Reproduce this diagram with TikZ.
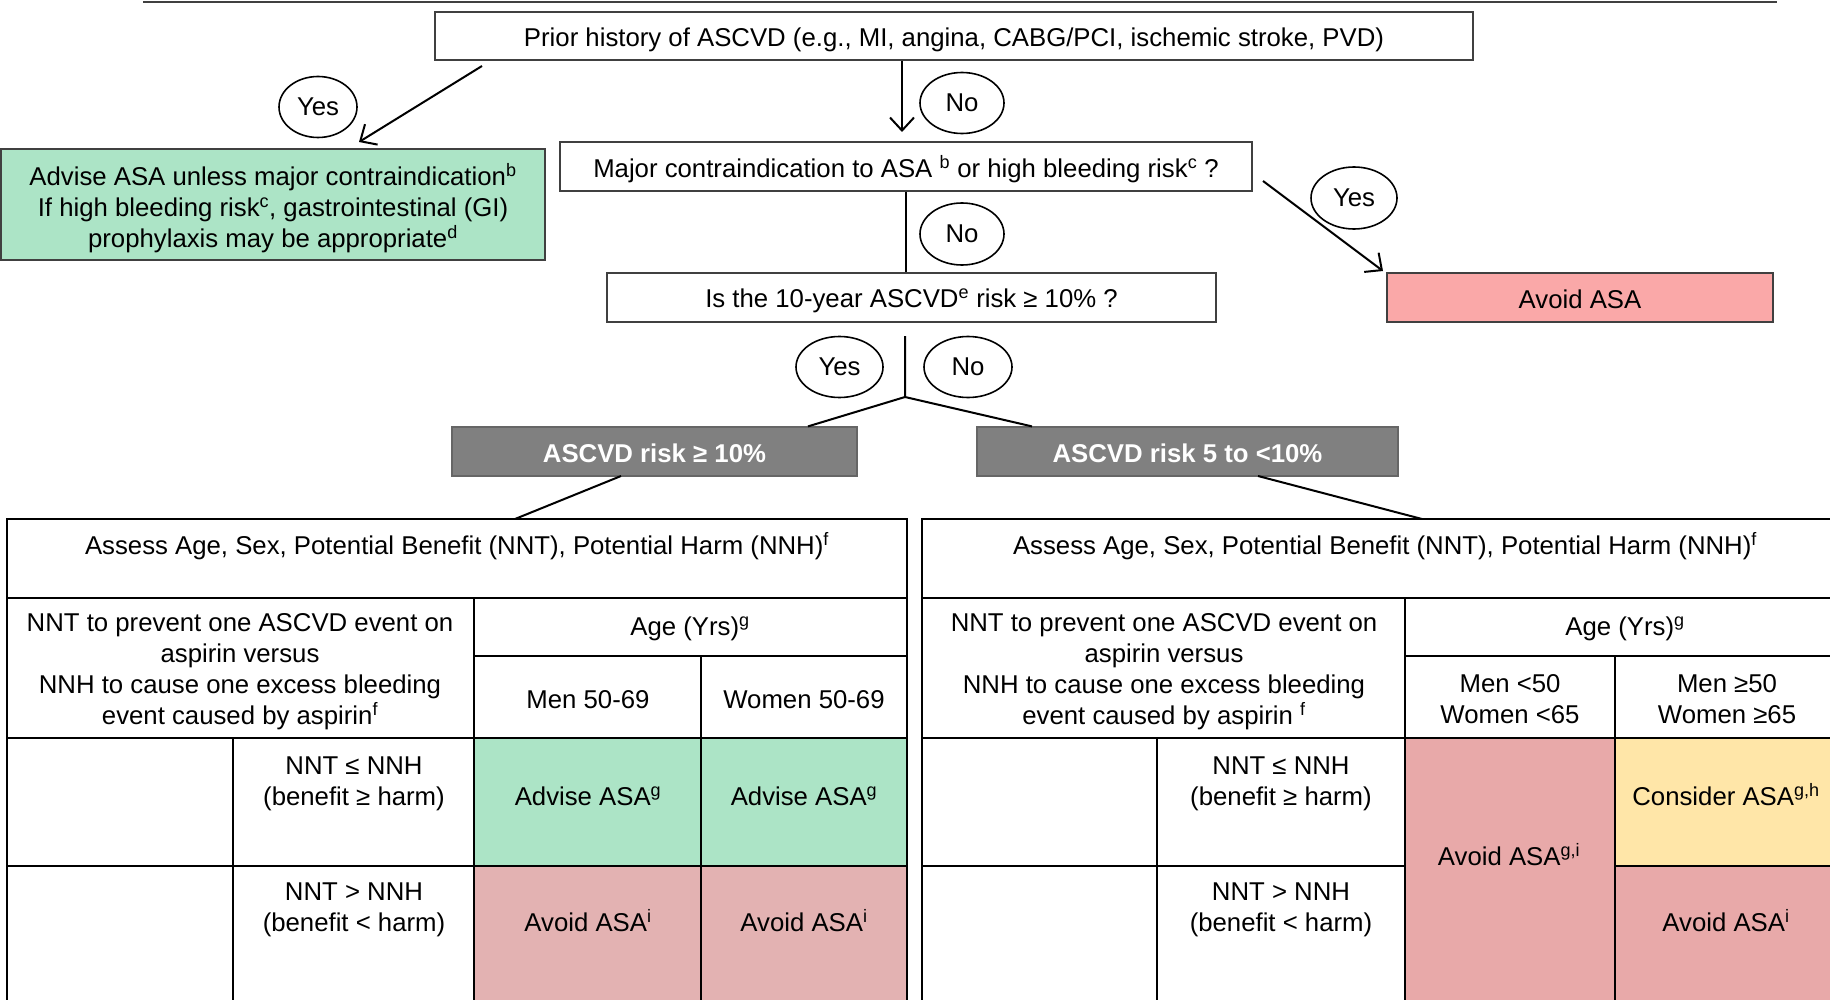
\documentclass[tikz,border=0pt]{standalone}
\usepackage{fontspec}
\setmainfont{Liberation Sans}
\usetikzlibrary{arrows.meta,shapes.geometric}
\definecolor{mint}{HTML}{ACE4C6}
\definecolor{rosetop}{HTML}{FAA8A8}
\definecolor{rosel}{HTML}{E3B2B2}
\definecolor{roser}{HTML}{E8A9A9}
\definecolor{yel}{HTML}{FFE6A8}
\definecolor{greybox}{HTML}{808080}
\begin{document}
\begin{tikzpicture}[x=1pt,y=-1pt,
  font=\fontsize{25.75}{31}\selectfont,
  box/.style={draw=black!75, line width=1.2pt, inner sep=0pt, align=center},
  bubble/.style={draw=black, ellipse, line width=1.6pt, inner sep=0pt},
  conn/.style={line width=2pt, black},
  arr/.style={conn, -{Straight Barb[length=13pt,width=24pt,line width=2pt]}},
  tline/.style={line width=2pt, black},
  cell/.style={inner sep=0pt, align=center},
  gbox/.style={box, fill=greybox, draw=black!60, text=white, font=\fontsize{25.75}{31}\selectfont\bfseries}]
\useasboundingbox (0,0) rectangle (1830,1000);
\begin{scope}
\clip (0,0) rectangle (1830,1000);

% top rule
\draw[line width=2.5pt, black!75] (143,2) -- (1777,2);

% flow boxes
\node[box, minimum width=1038pt, minimum height=48pt] (prior) at (954,36) {};
\node[cell] (priorT) at (954,39.5)
  {Prior history of ASCVD (e.g., MI, angina, CABG/PCI, ischemic stroke, PVD)};
\node[box, fill=mint, minimum width=544pt, minimum height=111pt] (advise) at (273,204.5) {};
\node[cell] (adviseT) at (273,208)
  {Advise ASA unless major contraindication\textsuperscript{b}\\
   If high bleeding risk\textsuperscript{c}, gastrointestinal (GI)\\
   prophylaxis may be appropriate\textsuperscript{d}};
\node[box, minimum width=692pt, minimum height=49pt] (contra) at (906,166.5) {};
\node[cell] (contraT) at (906,169)
  {Major contraindication to ASA \textsuperscript{b} or high bleeding risk\textsuperscript{c} ?};
\node[box, minimum width=609pt, minimum height=49pt] (tenyr) at (911.5,297.5) {};
\node[cell] (tenyrT) at (911.5,301)
  {Is the 10-year ASCVD\textsuperscript{e} risk ≥ 10\% ?};
\node[box, fill=rosetop, minimum width=386pt, minimum height=49pt] (avoid) at (1580,297.5) {};
\node[cell] (avoidT) at (1580,299) {Avoid ASA};
\node[gbox, minimum width=405pt, minimum height=49pt] (greyL) at (654.5,451.5) {};
\node[cell, text=white, font=\fontsize{25.75}{31}\selectfont\bfseries] (greyLT) at (654.5,453.5)
  {ASCVD risk ≥ 10\%};
\node[gbox, minimum width=421pt, minimum height=49pt] (greyR) at (1187.5,451.5) {};
\node[cell, text=white, font=\fontsize{25.75}{31}\selectfont\bfseries] (greyRT) at (1187.5,453.5)
  {ASCVD risk 5 to <10\%};

% bubbles
\node[bubble, minimum width=78pt, minimum height=61pt] (yes1) at (318,107) {Yes};
\node[bubble, minimum width=84pt, minimum height=61pt] (no1) at (962,103) {No};
\node[bubble, minimum width=84pt, minimum height=62pt] (no2) at (962,234) {No};
\node[bubble, minimum width=86pt, minimum height=62pt] (yes2) at (1354,198) {Yes};
\node[bubble, minimum width=87pt, minimum height=61pt] (yes3) at (839.5,367) {Yes};
\node[bubble, minimum width=88pt, minimum height=61pt] (no3) at (968,367) {No};

% connector end points
\coordinate (aYs) at (482,66);
\coordinate (aYe) at (359,142);
\coordinate (aNe) at (902,132);
\coordinate (bRs) at (1263,181);
\coordinate (bRe) at (1383,271);
\coordinate (jTop) at (905,336);
\coordinate (jMid) at (905,397);
\coordinate (gLb) at (621,476);
\coordinate (gRb) at (1258,476);
\coordinate (tabL) at (515,519);
\coordinate (tabR) at (1422,519);

\draw[arr] (aYs) -- (aYe);
\draw[arr] (prior.south -| aNe) -- (aNe);
\draw[conn] (contra.south -| 906,0) -- (tenyr.north -| 906,0);
\draw[arr] (bRs) -- (bRe);
\draw[conn] (jTop) -- (jMid) -- (greyL.north -| 808,0);
\draw[conn] (jMid) -- (greyR.north -| 1032,0);
\draw[conn] (gLb) -- (tabL);
\draw[conn] (gRb) -- (tabR);

% ---------- left table ----------
\fill[mint] (474,738) rectangle (907,866);
\fill[rosel] (474,866) rectangle (907,1010);
\draw[tline] (7,1010) -- (7,519) -- (907,519) -- (907,1010);
\draw[tline] (7,598) -- (907,598);
\draw[tline] (474,656) -- (907,656);
\draw[tline] (7,738) -- (907,738);
\draw[tline] (7,866) -- (907,866);
\draw[tline] (474,598) -- (474,1010);
\draw[tline] (701,656) -- (701,1010);
\draw[tline] (233,738) -- (233,1010);

\node[cell] (lAssess) at (457,546.5)
  {Assess Age, Sex, Potential Benefit (NNT), Potential Harm (NNH)\textsuperscript{f}};
\node[cell] (lNNT) at (240,671.5)
  {NNT to prevent one ASCVD event on\\ aspirin versus\\ NNH to cause one excess bleeding\\ event caused by aspirin\textsuperscript{f}};
\node[cell] (lAge) at (690,629) {Age (Yrs)\textsuperscript{g}};
\node[cell] (lMen) at (588,699.5) {Men 50-69};
\node[cell] (lWomen) at (804,699.5) {Women 50-69};
\node[cell] (lLe) at (354,783.5) {NNT ≤ NNH\\ (benefit ≥ harm)};
\node[cell] (lGt) at (354,909.5) {NNT > NNH\\ (benefit < harm)};
\node[cell] (lAdv1) at (588,796) {Advise ASA\textsuperscript{g}};
\node[cell] (lAdv2) at (804,796) {Advise ASA\textsuperscript{g}};
\node[cell] (lAv1) at (588,921) {Avoid ASA\textsuperscript{i}};
\node[cell] (lAv2) at (804,921) {Avoid ASA\textsuperscript{i}};

% ---------- right table ----------
\fill[roser] (1405,738) rectangle (1615,1010);
\fill[yel] (1615,738) rectangle (1846,866);
\fill[roser] (1615,866) rectangle (1846,1010);
\draw[tline] (922,1010) -- (922,519) -- (1846,519);
\draw[tline] (922,598) -- (1846,598);
\draw[tline] (1405,656) -- (1846,656);
\draw[tline] (922,738) -- (1846,738);
\draw[tline] (922,866) -- (1405,866);
\draw[tline] (1615,866) -- (1846,866);
\draw[tline] (1405,598) -- (1405,1010);
\draw[tline] (1615,656) -- (1615,1010);
\draw[tline] (1157,738) -- (1157,1010);

\node[cell] (rAssess) at (1385,546.5)
  {Assess Age, Sex, Potential Benefit (NNT), Potential Harm (NNH)\textsuperscript{f}};
\node[cell] (rNNT) at (1164,671.5)
  {NNT to prevent one ASCVD event on\\ aspirin versus\\ NNH to cause one excess bleeding\\ event caused by aspirin \textsuperscript{f}};
\node[cell] (rAge) at (1625,629) {Age (Yrs)\textsuperscript{g}};
\node[cell] (rYoung) at (1510,699.5) {Men <50\\ Women <65};
\node[cell] (rOld) at (1727,699.5) {Men ≥50\\ Women ≥65};
\node[cell] (rLe) at (1281,783.5) {NNT ≤ NNH\\ (benefit ≥ harm)};
\node[cell] (rGt) at (1281,909.5) {NNT > NNH\\ (benefit < harm)};
\node[cell] (rAvGI) at (1509,855) {Avoid ASA\textsuperscript{g,i}};
\node[cell] (rCons) at (1726,795) {Consider ASA\textsuperscript{g,h}};
\node[cell] (rAv) at (1726,921) {Avoid ASA\textsuperscript{i}};
\end{scope}
\end{tikzpicture}
\end{document}
